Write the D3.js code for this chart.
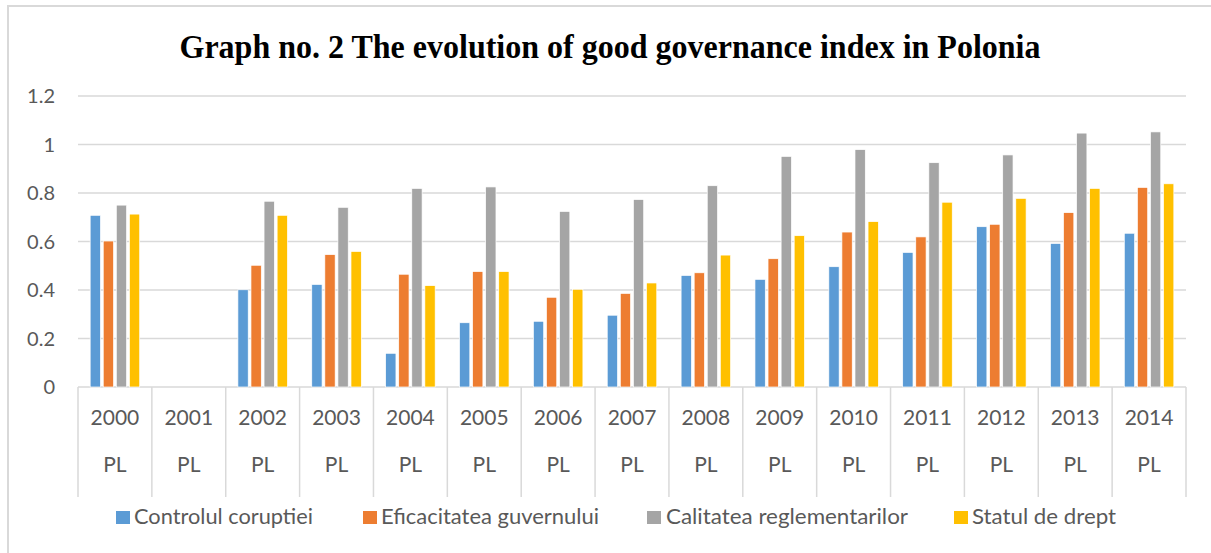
<!DOCTYPE html>
<html>
<head>
<meta charset="utf-8">
<script src="https://cdn.jsdelivr.net/npm/d3@7"></script>
<style>
  html, body { margin: 0; padding: 0; background: #fff; }
  svg { display: block; }
</style>
</head>
<body>
<svg id="chart" width="1211" height="553"></svg>
<script>
// ---- data ----
const years = ["2000","2001","2002","2003","2004","2005","2006","2007","2008","2009","2010","2011","2012","2013","2014"];
const countryLabel = "PL";
const seriesNames = ["Controlul coruptiei","Eficacitatea guvernului","Calitatea reglementarilor","Statul de drept"];
const controlulCoruptiei      = [0.708, null, 0.401, 0.423, 0.139, 0.265, 0.271, 0.296, 0.460, 0.444, 0.496, 0.555, 0.661, 0.592, 0.634];
const eficacitateaGuvernului  = [0.602, null, 0.502, 0.546, 0.465, 0.476, 0.370, 0.386, 0.471, 0.529, 0.639, 0.619, 0.671, 0.719, 0.823];
const calitateaReglementarilor= [0.750, null, 0.766, 0.741, 0.819, 0.825, 0.724, 0.773, 0.830, 0.951, 0.979, 0.925, 0.957, 1.047, 1.052];
const statulDeDrept           = [0.713, null, 0.708, 0.559, 0.418, 0.476, 0.403, 0.429, 0.544, 0.624, 0.682, 0.762, 0.778, 0.819, 0.838];
const yTicks = [0, 0.2, 0.4, 0.6, 0.8, 1, 1.2];
const titleText = "Graph no. 2 The evolution of good governance index in Polonia";

const seriesValues = [controlulCoruptiei, eficacitateaGuvernului, calitateaReglementarilor, statulDeDrept];
const colors = ["#5b9bd5", "#ed7d31", "#a5a5a5", "#ffc000"];

// ---- layout ----
const svg = d3.select("#chart");
const plot = { left: 78, right: 1186, top: 96, bottom: 387 };
const labelFont = "Lato, 'Open Sans', sans-serif";
const textColor = "#595959";
const gridColor = "#d9d9d9";

// frame
svg.append("line").attr("x1", 7).attr("x2", 1211).attr("y1", 6).attr("y2", 6)
  .attr("stroke", gridColor).attr("stroke-width", 2);
svg.append("line").attr("x1", 8).attr("x2", 8).attr("y1", 5).attr("y2", 553)
  .attr("stroke", gridColor).attr("stroke-width", 2);

// title
svg.append("text")
  .attr("x", 610).attr("y", 58)
  .attr("text-anchor", "middle")
  .attr("font-family", "'Liberation Serif', 'Times New Roman', serif")
  .attr("font-weight", "bold")
  .attr("font-size", 34)
  .attr("fill", "#000")
  .attr("textLength", 861)
  .attr("lengthAdjust", "spacingAndGlyphs")
  .text(titleText);

// scales
const x = d3.scaleBand().domain(years).range([plot.left, plot.right]).paddingInner(0).paddingOuter(0);
const x1 = d3.scaleBand().domain(d3.range(seriesNames.length)).range([0, x.bandwidth()])
  .paddingInner(0.21).paddingOuter(0.93);
const y = d3.scaleLinear().domain([0, 1.2]).range([plot.bottom, plot.top]);

// gridlines
svg.append("g").selectAll("line").data(yTicks).join("line")
  .attr("x1", plot.left).attr("x2", plot.right)
  .attr("y1", d => y(d)).attr("y2", d => y(d))
  .attr("stroke", gridColor).attr("stroke-width", 1.5);

// y tick labels
svg.append("g").selectAll("text").data(yTicks).join("text")
  .attr("x", 55).attr("y", d => y(d))
  .attr("dy", "0.35em")
  .attr("text-anchor", "end")
  .attr("font-family", labelFont).attr("font-size", 20)
  .attr("fill", textColor)
  .text(d => d3.format("")(d));

// category separators
const bounds = years.map(d => x(d)).concat([plot.right]);
svg.append("g").selectAll("line").data(bounds).join("line")
  .attr("x1", d => d).attr("x2", d => d)
  .attr("y1", plot.bottom).attr("y2", 497)
  .attr("stroke", gridColor).attr("stroke-width", 1.5);

// category labels
const catG = svg.append("g");
catG.selectAll("text.yr").data(years).join("text").attr("class", "yr")
  .attr("x", d => x(d) + x.bandwidth() / 2).attr("y", 418)
  .attr("dy", "0.35em").attr("text-anchor", "middle")
  .attr("font-family", labelFont).attr("font-size", 21).attr("fill", textColor)
  .text(d => d);
catG.selectAll("text.pl").data(years).join("text").attr("class", "pl")
  .attr("x", d => x(d) + x.bandwidth() / 2).attr("y", 465)
  .attr("dy", "0.35em").attr("text-anchor", "middle")
  .attr("font-family", labelFont).attr("font-size", 21).attr("fill", textColor)
  .text(countryLabel);

// bars
const barData = [];
years.forEach((yr, i) => {
  seriesValues.forEach((arr, s) => {
    if (arr[i] != null) barData.push({ yr, s, v: arr[i] });
  });
});
svg.append("g").selectAll("rect").data(barData).join("rect")
  .attr("x", d => x(d.yr) + x1(d.s))
  .attr("width", x1.bandwidth())
  .attr("y", d => y(d.v))
  .attr("height", d => y(0) - y(d.v))
  .attr("fill", d => colors[d.s])
  .attr("stroke", "#fff").attr("stroke-width", 0.7);

// legend
const legendPos = [
  { sq: 116, tx: 134, w: 179 },
  { sq: 363, tx: 381, w: 218 },
  { sq: 647, tx: 666, w: 242 },
  { sq: 954, tx: 972, w: 144 }
];
const lg = svg.append("g");
seriesNames.forEach((name, i) => {
  lg.append("rect").attr("x", legendPos[i].sq).attr("y", 511).attr("width", 14).attr("height", 13)
    .attr("fill", colors[i]);
  lg.append("text").attr("x", legendPos[i].tx).attr("y", 517)
    .attr("dy", "0.35em")
    .attr("font-family", labelFont).attr("font-size", 21).attr("fill", textColor)
    .attr("textLength", legendPos[i].w).attr("lengthAdjust", "spacingAndGlyphs")
    .text(name);
});
</script>
</body>
</html>
